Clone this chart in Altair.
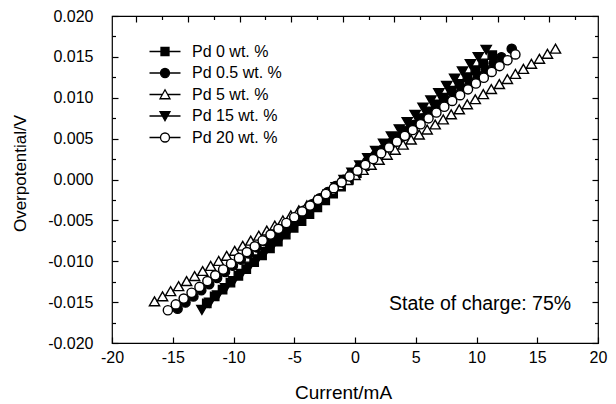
import altair as alt
import pandas as pd

FONT = "Liberation Sans"

series_names = ["Pd 0 wt. %", "Pd 0.5 wt. %", "Pd 5 wt. %", "Pd 15 wt. %", "Pd 20 wt. %"]

pd0_x = [-12.2, -11.55, -10.9, -10.25, -9.6, -8.95, -8.3, -7.65, -7.0, -6.35, -5.7, -5.05,
         -4.4, -3.75, -3.1, -2.45, -1.8, -1.15, -0.5, 0.15, 0.8, 1.45, 2.1, 2.75, 3.4, 4.05,
         4.7, 5.35, 6.0, 6.65, 7.3, 7.95, 8.6, 9.25, 9.9, 10.55, 11.3]
pd0_y = [-0.01514, -0.01430, -0.01346, -0.01262, -0.01178, -0.01095, -0.01011, -0.00927,
         -0.00843, -0.00759, -0.00675, -0.00591, -0.00508, -0.00424, -0.00340, -0.00256,
         -0.00172, -0.00088, -0.00005, 0.00079, 0.00163, 0.00247, 0.00331, 0.00415, 0.00499,
         0.00582, 0.00666, 0.00750, 0.00834, 0.00918, 0.01002, 0.01086, 0.01169, 0.01253,
         0.01337, 0.01421, 0.01520]

pd05_x = [-14.6, -13.95, -13.3, -12.65, -12.0, -11.35, -10.7, -10.05, -9.4, -8.75, -8.1,
          -7.45, -6.8, -6.15, -5.5, -4.85, -4.2, -3.55, -2.9, -2.25, -1.6, -0.95, -0.3, 0.35,
          1.0, 1.65, 2.3, 2.95, 3.6, 4.25, 4.9, 5.55, 6.2, 6.85, 7.5, 8.15, 8.8, 9.45, 10.1,
          10.75, 11.4, 12.05, 12.9]
pd05_y = [-0.01580, -0.01505, -0.01430, -0.01355, -0.01280, -0.01205, -0.01130, -0.01055,
          -0.00980, -0.00905, -0.00830, -0.00755, -0.00680, -0.00605, -0.00530, -0.00455,
          -0.00380, -0.00305, -0.00230, -0.00155, -0.00080, -0.00005, 0.00070, 0.00145,
          0.00220, 0.00295, 0.00370, 0.00445, 0.00520, 0.00596, 0.00670, 0.00745, 0.00820,
          0.00895, 0.00970, 0.01046, 0.01120, 0.01196, 0.01271, 0.01346, 0.01421, 0.01496,
          0.01600]

pd5_x = [-16.5, -15.84, -15.18, -14.52, -13.86, -13.2, -12.54, -11.88, -11.22, -10.56, -9.9,
         -9.24, -8.58, -7.92, -7.26, -6.6, -5.94, -5.28, -4.62, -3.96, -3.3, -2.64, -1.98,
         -1.32, -0.66, 0.0, 0.66, 1.32, 1.98, 2.64, 3.3, 3.96, 4.62, 5.28, 5.94, 6.6, 7.26,
         7.92, 8.58, 9.24, 9.9, 10.56, 11.22, 11.88, 12.54, 13.2, 13.86, 14.52, 15.18, 15.84,
         16.5]
pd5_y = [-0.01490, -0.01428, -0.01366, -0.01305, -0.01243, -0.01181, -0.01119, -0.01057,
         -0.00996, -0.00934, -0.00872, -0.00810, -0.00748, -0.00687, -0.00625, -0.00563,
         -0.00501, -0.00439, -0.00378, -0.00316, -0.00254, -0.00192, -0.00130, -0.00069,
         -0.00007, 0.00055, 0.00117, 0.00179, 0.00240, 0.00302, 0.00364, 0.00426, 0.00488,
         0.00549, 0.00611, 0.00673, 0.00735, 0.00797, 0.00858, 0.00920, 0.00982, 0.01044,
         0.01106, 0.01167, 0.01229, 0.01291, 0.01353, 0.01415, 0.01476, 0.01538, 0.01600]

pd15_x = [-12.6, -11.95, -11.3, -10.65, -10.0, -9.35, -8.7, -8.05, -7.4, -6.75, -6.1, -5.45,
          -4.8, -4.15, -3.5, -2.85, -2.2, -1.55, -0.9, -0.25, 0.4, 1.05, 1.7, 2.35, 3.0, 3.65,
          4.3, 4.95, 5.6, 6.25, 6.9, 7.55, 8.2, 8.85, 9.5, 10.15, 10.8]
pd15_y = [-0.01596, -0.01507, -0.01419, -0.01330, -0.01242, -0.01154, -0.01065, -0.00977,
          -0.00888, -0.00800, -0.00712, -0.00623, -0.00535, -0.00446, -0.00358, -0.00270,
          -0.00181, -0.00093, -0.00004, 0.00084, 0.00172, 0.00261, 0.00349, 0.00438, 0.00526,
          0.00614, 0.00703, 0.00791, 0.00880, 0.00968, 0.01056, 0.01145, 0.01233, 0.01322,
          0.01410, 0.01498, 0.01587]

pd20_x = [-15.4, -14.75, -14.1, -13.45, -12.8, -12.15, -11.5, -10.85, -10.2, -9.55, -8.9,
          -8.25, -7.6, -6.95, -6.3, -5.65, -5.0, -4.35, -3.7, -3.05, -2.4, -1.75, -1.1, -0.45,
          0.2, 0.85, 1.5, 2.15, 2.8, 3.45, 4.1, 4.75, 5.4, 6.05, 6.7, 7.35, 8.0, 8.65, 9.3,
          9.95, 10.6, 11.25, 11.9, 12.55, 13.2]
pd20_y = [-0.01599, -0.01528, -0.01457, -0.01385, -0.01314, -0.01243, -0.01172, -0.01101,
          -0.01030, -0.00959, -0.00888, -0.00817, -0.00746, -0.00674, -0.00603, -0.00532,
          -0.00461, -0.00390, -0.00319, -0.00248, -0.00177, -0.00106, -0.00035, 0.00037,
          0.00108, 0.00179, 0.00250, 0.00321, 0.00392, 0.00463, 0.00534, 0.00605, 0.00676,
          0.00748, 0.00819, 0.00890, 0.00961, 0.01032, 0.01103, 0.01174, 0.01245, 0.01316,
          0.01387, 0.01459, 0.01530]

x_major = [-20, -15, -10, -5, 0, 5, 10, 15, 20]
top_major = [-18.0, -13.75, -9.5, -5.25, -1.0, 3.25, 7.5, 11.75, 16.0]
top_minor = [-15.875, -11.625, -7.375, -3.125, 1.125, 5.375, 9.625, 13.875, 18.125]
y_major = [-0.020, -0.015, -0.010, -0.005, 0.0, 0.005, 0.010, 0.015, 0.020]
y_minor = [-0.0175, -0.0125, -0.0075, -0.0025, 0.0025, 0.0075, 0.0125, 0.0175]

annotation_text = "State of charge: 75%"
annotation_x = 2.8
annotation_y = -0.01596

xs_all = [pd0_x, pd05_x, pd5_x, pd15_x, pd20_x]
ys_all = [pd0_y, pd05_y, pd5_y, pd15_y, pd20_y]
rows = []
for name, xs, ys in zip(series_names, xs_all, ys_all):
    for a, b in zip(xs, ys):
        rows.append({"series": name, "current": a, "overpotential": b})
df = pd.DataFrame(rows)

point_shapes = ["square", "circle", "triangle-up", "triangle-down", "circle"]
point_sizes = [70, 85, 105, 105, 85]
point_fills = ["black", "black", "white", "black", "white"]
legend_strokes = ["black", "black", "black", "black", "black"]
legend_shapes = [
    "M-3.1,0H-0.8M0.8,0H3.1M-0.8,-0.8H0.8V0.8H-0.8Z",
    "M-3.1,0H-0.9M0.9,0H3.1M-0.9,0A0.9,0.9,0,1,0,0.9,0A0.9,0.9,0,1,0,-0.9,0Z",
    "M-3.1,0H-0.53M0.53,0H3.1M0,-0.95L1,0.85L-1,0.85Z",
    "M-3.1,0H-0.53M0.53,0H3.1M0,0.95L1,-0.85L-1,-0.85Z",
    "M-3.1,0H-0.9M0.9,0H3.1M-0.9,0A0.9,0.9,0,1,0,0.9,0A0.9,0.9,0,1,0,-0.9,0Z",
]

xscale = alt.Scale(domain=[-20, 20], nice=False, zero=False)
yscale = alt.Scale(domain=[-0.02, 0.02], nice=False, zero=False)

MAJ = 6
MIN = 3.5
XLAB = "(datum.value < 0 ? '-' : '') + format(abs(datum.value), 'd')"
YLAB = "(datum.value < 0 ? '-' : '') + format(abs(datum.value), '.3f')"


def tick_axis(orient, values, size):
    return alt.Axis(orient=orient, values=values, tickSize=size, offset=-size,
                    domain=False, grid=False, labels=False, ticks=True,
                    tickColor="black", tickWidth=1.2)


x_main_axis = alt.Axis(
    orient="bottom", values=x_major, tickSize=MAJ, offset=-MAJ, domain=False, grid=False,
    tickColor="black", tickWidth=1.2, labelExpr=XLAB, labelFont=FONT, labelFontSize=16,
    labelColor="black", labelPadding=6, labelFlush=False, labelOverlap=False,
    titleFont=FONT, titleFontSize=19, titleFontWeight="normal", titleColor="black",
    titleX=231, titleY=61, titleAlign="center", titleBaseline="alphabetic")
y_main_axis = alt.Axis(
    orient="left", values=y_major, tickSize=MAJ, offset=-MAJ, domain=False, grid=False,
    tickColor="black", tickWidth=1.2, labelExpr=YLAB, labelFont=FONT, labelFontSize=16,
    labelColor="black", labelPadding=19, labelFlush=False, labelOverlap=False,
    titleFont=FONT, titleFontSize=17, titleFontWeight="normal", titleColor="black",
    titleX=-93, titleY=157, titleAngle=270, titleAlign="center", titleBaseline="alphabetic")

points = alt.Chart(df).mark_point(filled=True, stroke="black", strokeWidth=1.4, opacity=1).encode(
    x=alt.X("current:Q", scale=xscale, axis=x_main_axis, title="Current/mA"),
    y=alt.Y("overpotential:Q", scale=yscale, axis=y_main_axis, title="Overpotential/V"),
    shape=alt.Shape("series:N", scale=alt.Scale(domain=series_names, range=point_shapes), legend=None),
    fill=alt.Fill("series:N", scale=alt.Scale(domain=series_names, range=point_fills), legend=None),
    size=alt.Size("series:N", scale=alt.Scale(type="ordinal", domain=series_names, range=point_sizes), legend=None),
)

legend_props = dict(orient="none", legendX=45, legendY=27.5, padding=0, symbolSize=100,
                    symbolStrokeWidth=1.3, symbolStrokeColor="black", symbolOpacity=1,
                    labelFont=FONT, labelFontSize=16, labelColor="black", labelOffset=19,
                    rowPadding=5.5)

legend_layer = alt.Chart(df).transform_filter("false").mark_point(
    filled=True, strokeWidth=1.3, opacity=1).encode(
    x=alt.X("current:Q", scale=xscale, axis=None),
    y=alt.Y("overpotential:Q", scale=yscale, axis=tick_axis("left", y_minor, MIN), title=""),
    shape=alt.Shape("series:N", scale=alt.Scale(domain=series_names, range=legend_shapes),
                    legend=alt.Legend(**legend_props), title=None),
    fill=alt.Fill("series:N", scale=alt.Scale(domain=series_names, range=point_fills),
                  legend=alt.Legend(**legend_props), title=None),
    stroke=alt.Stroke("series:N", scale=alt.Scale(domain=series_names, range=legend_strokes),
                      legend=alt.Legend(**legend_props), title=None),
)

frame_major = alt.Chart(df).transform_filter("false").mark_point().encode(
    x=alt.X("current:Q", scale=xscale, axis=tick_axis("top", top_major, MAJ), title=""),
    y=alt.Y("overpotential:Q", scale=yscale, axis=tick_axis("right", y_major, MAJ), title=""),
)
frame_minor = alt.Chart(df).transform_filter("false").mark_point().encode(
    x=alt.X("current:Q", scale=xscale, axis=tick_axis("top", top_minor, MIN), title=""),
    y=alt.Y("overpotential:Q", scale=yscale, axis=tick_axis("right", y_minor, MIN), title=""),
)

ann_df = pd.DataFrame({"current": [annotation_x], "overpotential": [annotation_y],
                       "label": [annotation_text]})
annotation = alt.Chart(ann_df).mark_text(
    align="left", baseline="alphabetic", font=FONT, fontSize=19.5, color="black").encode(
    x=alt.X("current:Q", scale=xscale, axis=None),
    y=alt.Y("overpotential:Q", scale=yscale, axis=None),
    text="label:N",
)

chart = alt.layer(points, legend_layer, frame_major, frame_minor, annotation).resolve_scale(
    shape="independent", fill="independent", size="independent", stroke="independent"
).resolve_axis(
    x="independent", y="independent"
).properties(
    width=486, height=327,
    padding={"left": 112, "top": 16, "right": 18, "bottom": 61},
    autosize=alt.AutoSizeParams(type="none"),
    background="white",
).configure_view(stroke="black", strokeWidth=1.2)

chart.save("out.html", embed_options={"renderer": "svg", "actions": False})
